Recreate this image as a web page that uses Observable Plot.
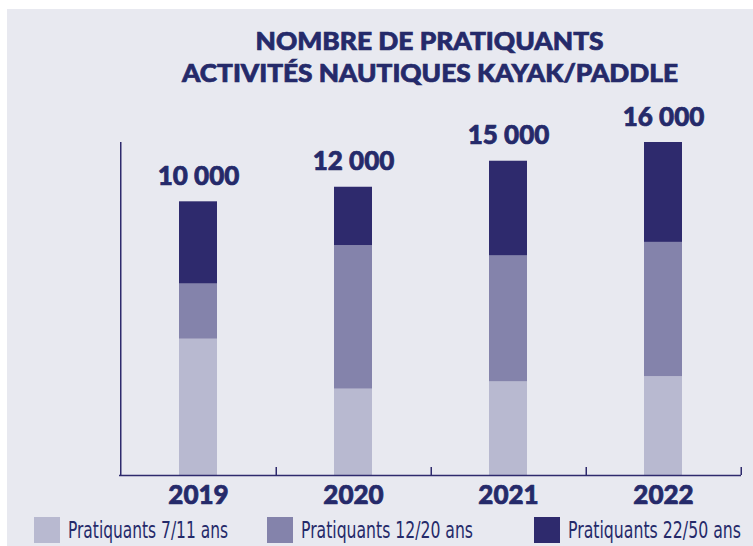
<!DOCTYPE html>
<html>
<head>
<meta charset="utf-8">
<script src="https://cdn.jsdelivr.net/npm/d3@7"></script>
<script src="https://cdn.jsdelivr.net/npm/@observablehq/plot@0.6"></script>
<style>
  html, body { margin: 0; padding: 0; background: #ffffff; }
  #page { position: relative; width: 753px; height: 546px; overflow: hidden; }
  #panel { position: absolute; left: 7px; top: 9px; width: 746px; height: 537px; background: #e8e9f0; }
  .title { position: absolute; left: 119px; width: 622px; text-align: center; white-space: nowrap;
           font-family: Lato, "Open Sans", sans-serif; font-weight: 900; font-size: 24px; line-height: 24px; color: #252a6a;
           -webkit-text-stroke: 0.7px #252a6a; }
  .title span { display: inline-block; transform-origin: 50% 50%; }
  #chart { position: absolute; left: 0; top: 100px; }
  .sw { position: absolute; width: 26px; height: 26px; }
  .lg { position: absolute; white-space: nowrap; font-family: "Liberation Sans Narrow", "DejaVu Sans Condensed", Roboto, sans-serif;
        font-stretch: condensed; font-size: 23px; line-height: 23px; color: #252a6a; transform-origin: 0 50%; }
</style>
</head>
<body>
<div id="page">
  <div id="panel"></div>
  <div class="title" style="top:29px"><span id="t1"></span></div>
  <div class="title" style="top:61px"><span id="t2"></span></div>
  <div id="chart"></div>
  <div id="legend"></div>
</div>
<script>
// ---- data ----
const titleLines = ["NOMBRE DE PRATIQUANTS", "ACTIVITÉS NAUTIQUES KAYAK/PADDLE"];
const years = ["2019", "2020", "2021", "2022"];
const totalLabels = ["10 000", "12 000", "15 000", "16 000"];
const seriesNames = ["Pratiquants 7/11 ans", "Pratiquants 12/20 ans", "Pratiquants 22/50 ans"];
// segment sizes as drawn (same scale for all bars; 2022 bar = 16 000)
const ages7_11  = [6550, 4150, 4500, 4750];
const ages12_20 = [2650, 6900, 6050, 6450];
const ages22_50 = [3950, 2800, 4550, 4800];

// ---- styling ----
const colors = ["#b8b9d0", "#8483ab", "#2e2a6d"];
const navy = "#252a6a";
const axisColor = "#2e2a6d";

const seriesValues = [ages7_11, ages12_20, ages22_50];
const rows = [];
seriesNames.forEach((s, i) => years.forEach((y, j) => rows.push({year: y, series: s, value: seriesValues[i][j]})));
const totals = years.map((y, j) => ({year: y, total: seriesValues.reduce((a, v) => a + v[j], 0), label: totalLabels[j]}));
const yMax = d3.max(totals, d => d.total);

const W = 753, H = 420, mL = 119, mR = 12, mT = 42, mB = 45;
const step = (W - mL - mR) / years.length;
const frameH = H - mT - mB;

const chart = Plot.plot({
  width: W, height: H,
  marginLeft: mL, marginRight: mR, marginTop: mT, marginBottom: mB,
  style: {background: "transparent", overflow: "visible"},
  x: {domain: years, paddingInner: 0.756, paddingOuter: 0.378, axis: null},
  y: {domain: [0, yMax], axis: null},
  color: {domain: seriesNames, range: colors},
  marks: [
    Plot.barY(rows, {x: "year", y: "value", fill: "series"}),
    Plot.ruleX([years[0]], {dx: -step / 2, stroke: axisColor, strokeWidth: 1.5}),
    Plot.ruleY([0], {stroke: axisColor, strokeWidth: 1.5}),
    Plot.ruleX(years, {dx: step / 2, insetTop: frameH - 8, stroke: axisColor, strokeWidth: 1.5}),
    Plot.text(totals, {x: "year", y: "total", text: "label", dy: -17, lineAnchor: "bottom",
      fontFamily: "Lato, 'Open Sans', sans-serif", fontWeight: 900, fontSize: 26, fill: navy,
      stroke: navy, strokeWidth: 0.7, ariaLabel: "totaux"}),
    Plot.text(years, {x: d => d, frameAnchor: "bottom", dy: 28, lineAnchor: "bottom", text: d => d,
      fontFamily: "Lato, 'Open Sans', sans-serif", fontWeight: 900, fontSize: 26, fill: navy,
      stroke: navy, strokeWidth: 0.7, ariaLabel: "annees"})
  ]
});
document.getElementById("chart").appendChild(chart);
d3.select(chart).selectAll('g[aria-label="totaux"] text').attr("textLength", 86).attr("lengthAdjust", "spacingAndGlyphs");
d3.select(chart).selectAll('g[aria-label="annees"] text').attr("textLength", 62).attr("lengthAdjust", "spacingAndGlyphs");

// ---- title ----
function fit(el, target) {
  const w = el.getBoundingClientRect().width;
  if (w > 0) el.style.transform = `scaleX(${target / w})`;
}
const t1 = document.getElementById("t1"), t2 = document.getElementById("t2");
t1.textContent = titleLines[0];
t2.textContent = titleLines[1];
fit(t1, 348); fit(t2, 496);

// ---- legend ----
const legend = document.getElementById("legend");
const swX = [34, 267, 534];
const txtW = [160, 172, 173];
seriesNames.forEach((s, i) => {
  const sw = document.createElement("div");
  sw.className = "sw";
  sw.style.left = swX[i] + "px"; sw.style.top = "517px"; sw.style.background = colors[i];
  legend.appendChild(sw);
  const t = document.createElement("div");
  t.className = "lg";
  t.textContent = s;
  t.style.left = (swX[i] + 34) + "px"; t.style.top = "519px";
  legend.appendChild(t);
  fit(t, txtW[i]);
});
</script>
</body>
</html>
